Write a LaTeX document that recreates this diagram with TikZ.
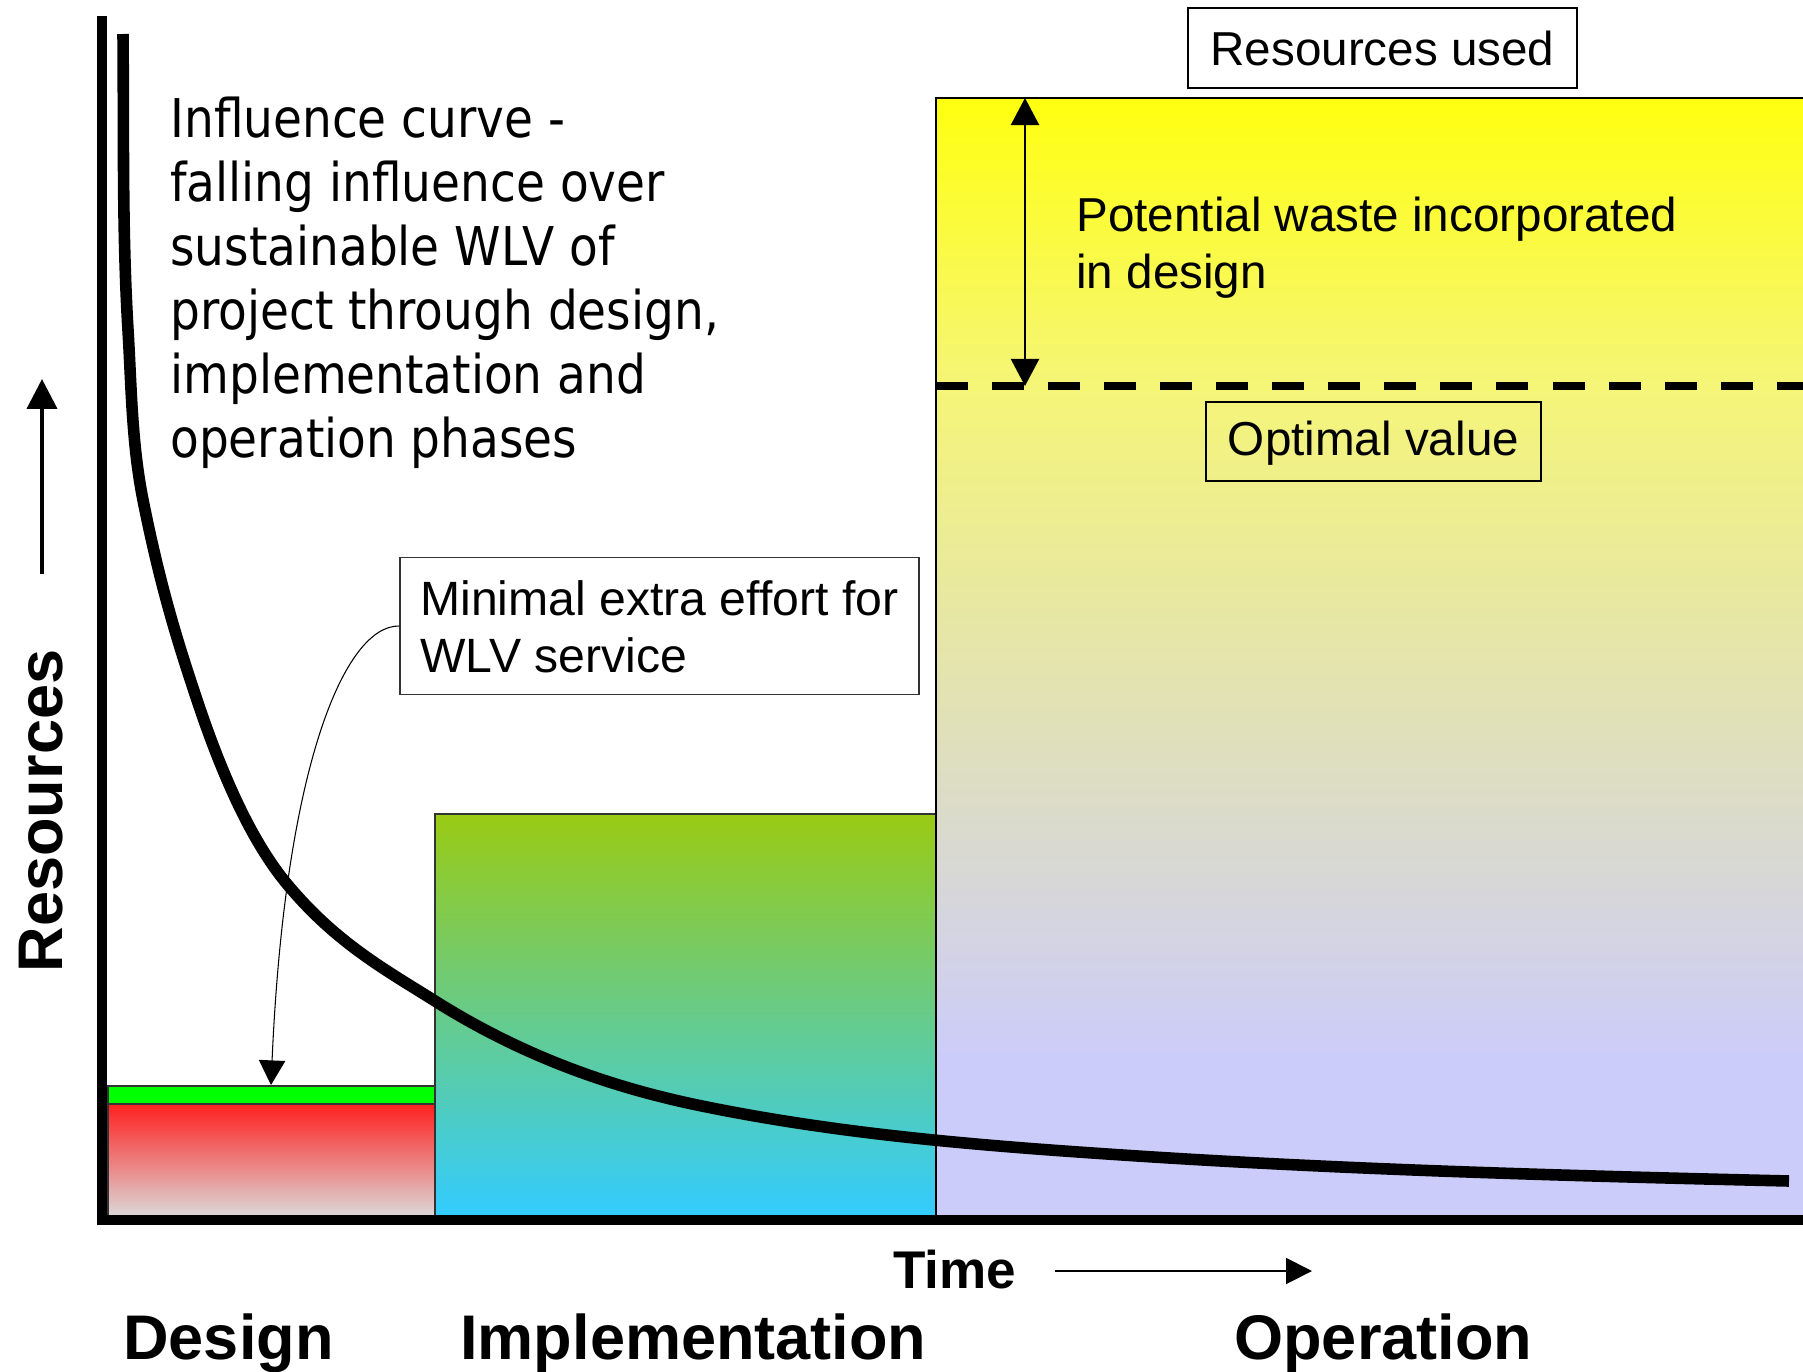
\documentclass[tikz,border=0pt]{standalone}
\usepackage{fontspec}
\setmainfont{Liberation Sans}
\newfontfamily\tahoma[FakeStretch=0.88]{DejaVu Sans}
\usetikzlibrary{arrows.meta}
\definecolor{redtop}{HTML}{FF2020}
\definecolor{redbot}{HTML}{DCD8D8}
\definecolor{stripgreen}{HTML}{00FF00}
\definecolor{impltop}{HTML}{9ACB14}
\definecolor{implmid}{HTML}{76CAAE}
\definecolor{implbot}{HTML}{33CCFF}
\definecolor{opA}{HTML}{FFFF10}
\definecolor{opB}{HTML}{F5F578}
\definecolor{opC}{HTML}{DCDCD2}
\definecolor{opD}{HTML}{CCCCFA}
\definecolor{boxline}{HTML}{333333}
\tikzset{
  arialtxt/.style={font=\fontsize{27.1pt}{31.9pt}\selectfont, inner sep=0pt},
  phase/.style={font=\bfseries\fontsize{35.9pt}{40pt}\selectfont, anchor=base west, inner sep=0pt},
  thinbox/.style={draw=boxline, line width=0.85pt},
}
\begin{document}
\begin{tikzpicture}[x=0.02cm, y=-0.02cm]
\useasboundingbox (0,0) rectangle (1803,1372);

% Design phase bars
\shade[top color=redtop, bottom color=redbot] (108,1104) rectangle (435,1216);
\draw[thinbox] (108,1104) rectangle (435,1216);
\filldraw[fill=stripgreen, thinbox] (108,1086) rectangle (435,1104);

% Implementation bar
\shade[top color=impltop, middle color=implmid, bottom color=implbot] (435,814) rectangle (936,1216);
\draw[thinbox] (435,814) rectangle (936,1216);

% Operation bar
\shade[top color=opA, bottom color=opB] (936,98) rectangle (1803,387);
\shade[top color=opB, middle color=opC, bottom color=opD] (936,386) rectangle (1803,1060);
\fill[opD] (936,1059) rectangle (1803,1216);
\draw[line width=1.14pt] (1803,98) -- (936,98) -- (936,1216);

% optimal value dashed line
\draw[line width=4pt, dash pattern=on 18.2pt off 13.7pt] (936,386) -- (1803,386);

% potential waste double arrow
\coordinate (wtop) at (1025,98);
\coordinate (wbot) at (1025,386);
\draw[line width=1.1pt, {Triangle[length=15.4pt,width=16pt]}-{Triangle[length=15.4pt,width=16pt]}] (wtop) -- (wbot);

% influence curve
\draw[line width=6.6pt] (123,34) .. controls (123.9,132.7) and (122.1,231.3) .. (128,330)
 .. controls (131.4,386.7) and (131.7,443.3) .. (143,500)
 .. controls (161,590) and (179,646) .. (197,700)
 .. controls (227,790) and (257,848) .. (287,884)
 .. controls (336.3,943.2) and (385.7,969.9) .. (435,1001)
 .. controls (523.3,1056.6) and (611.7,1087.4) .. (700,1105.6)
 .. controls (843.3,1135.1) and (986.7,1146.1) .. (1130,1155.5)
 .. controls (1349.7,1169.9) and (1569.3,1175.8) .. (1789,1181);

% axes
\draw[line width=5.7pt] (102,16) -- (102,1220) -- (1803,1220);

% labels and boxes
\node[arialtxt, draw, line width=1.14pt, minimum width=7.78cm, minimum height=1.6cm] (resused) at (1382.5,48) {Resources used};
\node[arialtxt, draw, line width=1.14pt, minimum width=6.7cm, minimum height=1.58cm, text depth=0.12cm] (optval) at (1373.5,441.5) {Optimal value};
\node[arialtxt, anchor=base west] (waste) at (1076,232)
  {\vtop{\baselineskip=31.9pt\hbox{Potential waste incorporated}\hbox{in design}}};

\node[font=\tahoma\fontsize{30.4pt}{36.4pt}\selectfont, inner sep=0pt, anchor=base west] (influence) at (170,138)
  {\vtop{\baselineskip=36.4pt
   \hbox{Influence curve -}
   \hbox{falling influence over}
   \hbox{sustainable WLV of}
   \hbox{project through design,}
   \hbox{implementation and}
   \hbox{operation phases}}};

\node[draw=boxline, line width=0.85pt, fill=white, minimum width=10.38cm, minimum height=2.74cm, inner sep=0pt] (minbox) at (659.5,626) {};
\node[arialtxt, anchor=base west, font=\fontsize{27.4pt}{33pt}\selectfont] (mintext) at (420,615)
  {\vtop{\baselineskip=33pt\hbox{Minimal extra effort for}\hbox{WLV service}}};
\coordinate (calltip) at (271,1085);
\draw[line width=0.6pt, -{Triangle[length=14pt,width=15pt]}] (minbox.west) .. controls (345,625) and (285,765) .. (calltip);

% axis titles
\node[phase, rotate=90, anchor=base] (resources) at (62,811) {Resources};
\coordinate (upA) at (42,574);
\coordinate (upB) at (42,379);
\draw[line width=2.3pt, -{Triangle[length=17pt,width=17pt]}] (upA) -- (upB);

\node[phase, font=\bfseries\fontsize{30.2pt}{34pt}\selectfont] (time) at (893,1288) {Time};
\coordinate (tA) at (1055,1271);
\coordinate (tB) at (1312,1271);
\draw[line width=1.1pt, -{Triangle[length=14.8pt,width=14.8pt]}] (tA) -- (tB);

\node[phase] (design) at (123,1359) {Design};
\node[phase] (impl) at (460,1359) {Implementation};
\node[phase] (oper) at (1234,1359) {Operation};
\end{tikzpicture}
\end{document}
